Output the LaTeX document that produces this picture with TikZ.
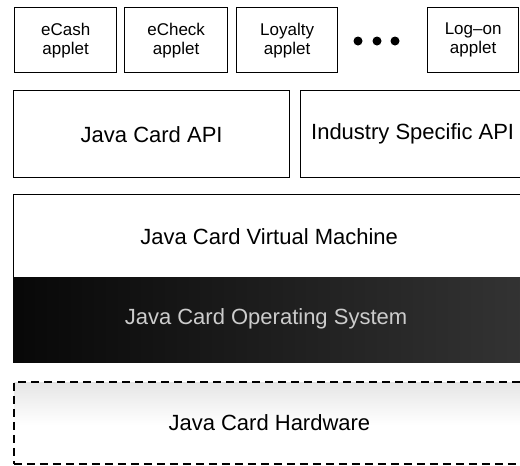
\documentclass[tikz,border=0pt]{standalone}
\usepackage{fontspec}
\setmainfont{Liberation Sans}

\begin{document}
\begin{tikzpicture}[x=1pt, y=-1pt,
    box/.style={draw, line width=1.3pt, inner sep=0pt, anchor=north west, align=center},
    applet/.style={box, minimum height=65pt, font=\fontsize{17}{19}\selectfont},
    layer/.style={box, font=\fontsize{22}{26}\selectfont},
    dot/.style={circle, fill=black, inner sep=0pt, minimum size=9pt}]

    \useasboundingbox (0,0) rectangle (520,466);

    % applets
    \node [applet, minimum width=102pt] (ecash) at (14,7) {eCash\\applet};
    \node [applet, minimum width=103pt] (echeck) at (124,7) {eCheck\\applet};
    \node [applet, minimum width=101pt] (loyalty) at (236,7) {Loyalty\\applet};
    \node [dot] (dot1) at (358,41) {};
    \node [dot] (dot2) at (377,41) {};
    \node [dot] (dot3) at (395,41) {};
    \node [applet, minimum width=91pt] (logon) at (427,7) {Log--on\\applet};

    % APIs
    \node [layer, minimum width=276pt, minimum height=87pt] (api) at (13,90) {Java Card API};
    \node [layer, minimum width=224pt, minimum height=87pt] (isapi) at (300,90) {Industry Specific API};

    % virtual machine
    \node [layer, minimum width=511pt, minimum height=83pt] (jcvm) at (13,194) {Java Card Virtual Machine};

    % operating system
    \shade [left color=black!97, right color=black!80] (13,277) rectangle (524,362);
    \node [text=black!20, font=\fontsize{22}{26}\selectfont] (os) at (266,319) {Java Card Operating System};

    % hardware
    \shade [top color=black!10, bottom color=white] (14,382) rectangle (524,425);
    \node [layer, dash pattern=on 8pt off 5pt, line width=1.8pt, minimum width=511pt, minimum height=82pt] (hw) at (13,381) {Java Card Hardware};

\end{tikzpicture}
\end{document}
